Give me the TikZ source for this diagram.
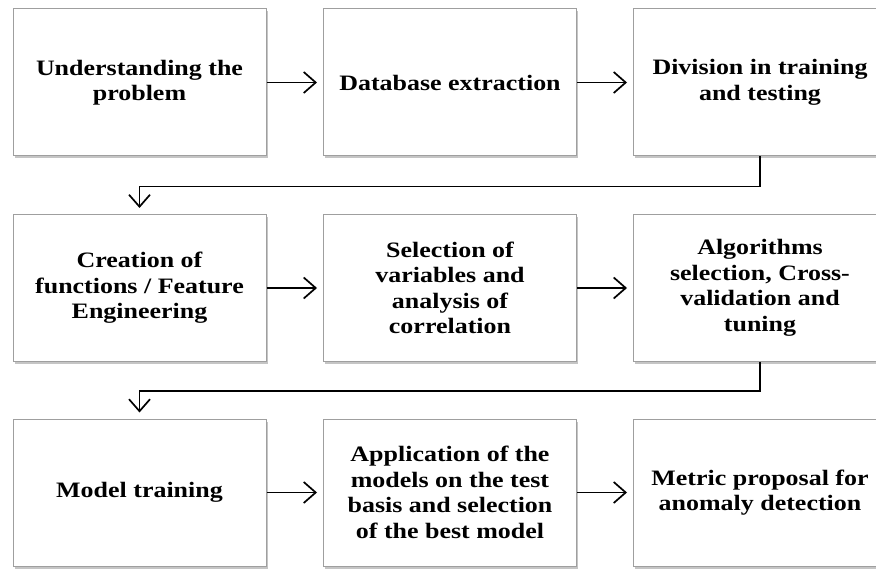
\documentclass[tikz,border=0pt]{standalone}
\usepackage{fontspec}
\setmainfont{Liberation Serif}[FakeStretch=1.18]
\usetikzlibrary{arrows.meta,shadows}
\begin{document}
\begin{tikzpicture}[x=1pt,y=-1pt,
  stepbox/.style={draw=gray!75, line width=1pt, fill=white,
    minimum width=253pt, minimum height=147pt, inner sep=0pt,
    align=center, font=\fontsize{22}{25.5}\selectfont\bfseries,
    drop shadow={shadow xshift=1.5pt, shadow yshift=-2.5pt, opacity=0.45, fill=gray}},
  flow/.style={line width=1.9pt, -{Straight Barb[length=12pt,width=21pt,line width=1.7pt]}, shorten >=6pt}]
\useasboundingbox (0,0) rectangle (876,569);
\clip (0,0) rectangle (876,569);
\fill[white] (0,0) rectangle (876,569);
\node[stepbox] (b1) at (139.5,82.5) {Understanding the\\problem};
\node[stepbox] (b2) at (450,82.5) {Database extraction};
\node[stepbox] (b3) at (760,82.5) {Division in training\\and testing};
\node[stepbox] (b4) at (139.5,288) {Creation of\\functions / Feature\\Engineering};
\node[stepbox] (b5) at (450,288) {Selection of\\variables and\\analysis of\\correlation};
\node[stepbox] (b6) at (760,288) {Algorithms\\selection, Cross-\\validation and\\tuning};
\node[stepbox] (b7) at (139.5,492.5) {Model training};
\node[stepbox] (b8) at (450,492.5) {Application of the\\models on the test\\basis and selection\\of the best model};
\node[stepbox] (b9) at (760,492.5) {Metric proposal for\\anomaly detection};
\draw[flow] (b1) -- (b2);
\draw[flow] (b2) -- (b3);
\draw[flow] (b4) -- (b5);
\draw[flow] (b5) -- (b6);
\draw[flow] (b7) -- (b8);
\draw[flow] (b8) -- (b9);
\coordinate (t1) at ([yshift=-30pt]b3.south);
\coordinate (t2) at ([yshift=-29pt]b6.south);
\draw[flow] (b3.south) -- (t1) -| (b4.north);
\draw[flow] (b6.south) -- (t2) -| (b7.north);
\end{tikzpicture}
\end{document}
